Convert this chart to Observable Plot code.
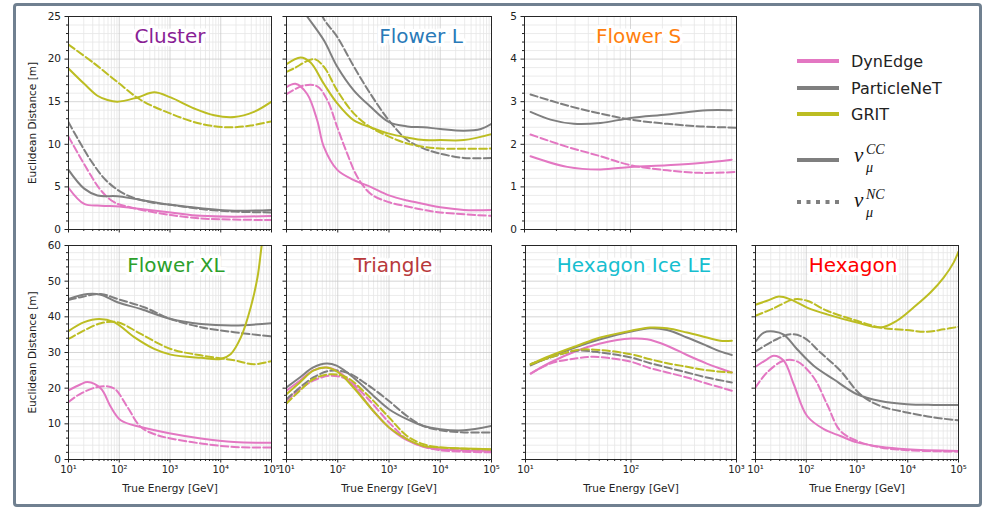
<!DOCTYPE html>
<html><head><meta charset="utf-8">
<script src="https://cdn.jsdelivr.net/npm/d3@7"></script>
<script src="https://cdn.jsdelivr.net/npm/@observablehq/plot@0.6"></script>
<style>
body{margin:0;background:#fff;}
#fig{position:relative;width:986px;height:508px;overflow:hidden;font-family:"DejaVu Sans",sans-serif;background:#fff;}
#border{position:absolute;left:13px;top:3px;width:969px;height:504px;box-sizing:border-box;border:3.5px solid #708090;border-radius:4px;}
.panel{position:absolute;}
</style></head>
<body><div id="fig"><div id="border"></div></div>
<script>
// ---------- DATA: [true energy (GeV), euclidean distance (m)] ----------
// Cluster
const cluster_DynEdge_CC = [[10,4.9],[20.4,3.0],[43.4,2.8],[100,2.7],[197,2.5],[1030,2.0],[4070,1.6],[18400,1.5],[100000,1.6]];
const cluster_DynEdge_NC = [[10,10.9],[23.7,7.0],[43.4,4.6],[79.4,3.2],[197,2.5],[1030,1.7],[4070,1.3],[10000,1.2],[100000,1.1]];
const cluster_ParticleNeT_CC = [[10,7.0],[20.4,4.8],[37.2,4.0],[92.4,3.9],[197,3.6],[1030,2.9],[4070,2.5],[18400,2.2],[100000,2.3]];
const cluster_ParticleNeT_NC = [[10,12.6],[27.5,8.1],[58.7,5.6],[145,4.0],[419,3.2],[1030,2.9],[4070,2.4],[18400,2.1],[100000,2.0]];
const cluster_GRIT_CC = [[10,18.9],[20.4,17.1],[37.2,15.7],[58.7,15.2],[92.4,15.0],[229,15.5],[488,16.1],[1030,15.5],[3000,14.2],[7400,13.4],[18400,13.2],[45000,13.8],[100000,15.0]];
const cluster_GRIT_NC = [[10,21.7],[32,19.5],[92.4,17.3],[266,15.2],[1030,13.6],[4070,12.4],[13600,12.0],[39000,12.2],[100000,12.7]];
// Flower L
const flowerL_DynEdge_CC = [[10,16.7],[15,17.1],[25.3,15.9],[39.8,12.8],[53.6,9.7],[97.9,7.0],[207,5.8],[437,5.0],[1000,4.0],[2270,3.4],[4800,3.0],[10000,2.6],[29000,2.3],[100000,2.3]];
const flowerL_DynEdge_NC = [[10,15.9],[21.8,16.9],[39.8,16.8],[62.4,15.2],[97.9,12.0],[153,8.9],[240,6.2],[437,4.2],[1000,3.2],[2270,2.7],[4800,2.3],[10000,2.0],[100000,1.6]];
const flowerL_ParticleNeT_CC = [[10,29],[15,27],[25.3,25.0],[53.6,22.2],[97.9,19.1],[207,16.3],[437,14.4],[1000,12.6],[2270,12.1],[4800,12.0],[10000,11.8],[29000,11.6],[62000,11.8],[100000,12.4]];
const flowerL_ParticleNeT_NC = [[10,33],[30,28],[53.6,24.7],[97.9,22.6],[207,19.1],[437,15.9],[1000,12.8],[2270,10.5],[4800,9.5],[10000,8.9],[29000,8.4],[100000,8.4]];
const flowerL_GRIT_CC = [[10,19.4],[18.8,20.2],[29.5,19.6],[53.6,17.1],[97.9,14.8],[207,12.8],[437,12.0],[1000,11.25],[2270,10.8],[4800,10.5],[10000,10.5],[29000,10.5],[100000,11.2]];
const flowerL_GRIT_NC = [[10,18.5],[13.9,18.9],[34.2,20.0],[53.6,19.1],[97.9,16.3],[207,13.6],[437,12.0],[1000,10.9],[2270,10.1],[4800,9.7],[10000,9.5],[100000,9.5]];
// Flower S
const flowerS_DynEdge_CC = [[11.4,1.72],[25.3,1.47],[52.1,1.41],[100,1.47],[222,1.51],[457,1.56],[900,1.64]];
const flowerS_DynEdge_NC = [[11.4,2.23],[25.3,1.94],[52.1,1.72],[100,1.51],[222,1.39],[457,1.33],[1000,1.35]];
const flowerS_ParticleNeT_CC = [[11.4,2.76],[17.6,2.58],[29.2,2.48],[52.1,2.50],[100,2.62],[222,2.70],[529,2.80],[900,2.80]];
const flowerS_ParticleNeT_NC = [[11.4,3.17],[25.3,2.91],[52.1,2.72],[100,2.58],[222,2.48],[457,2.42],[1000,2.39]];
// Flower XL
const flowerXL_DynEdge_CC = [[10,19.4],[17.5,21.1],[23.7,21.7],[43.4,19.9],[68.4,14.7],[107,11.0],[266,9.1],[1030,7.3],[4070,5.9],[18400,4.9],[100000,4.7]];
const flowerXL_DynEdge_NC = [[10,16.1],[17.5,18.5],[43.4,20.5],[79.4,19.9],[145,14.7],[266,9.1],[567,6.8],[1030,5.9],[4070,4.5],[18400,3.5],[100000,3.4]];
const flowerXL_ParticleNeT_CC = [[10,45.0],[23.7,46.4],[43.4,46.2],[92.4,44.1],[266,42.2],[1030,39.4],[4070,38.0],[18400,37.6],[100000,38.2]];
const flowerXL_ParticleNeT_NC = [[10,44.7],[17.5,45.5],[43.4,46.4],[92.4,45.0],[309,42.7],[1030,39.4],[4070,37.1],[18400,35.7],[100000,34.5]];
const flowerXL_GRIT_CC = [[10,36.0],[20.4,38.5],[40.2,39.4],[79.4,38.5],[197,34.3],[488,31.0],[1030,29.4],[4070,28.5],[10000,28.2],[15800,29.6],[25000,34.3],[39000,42.7],[53000,51.1],[64000,60],[80000,70]];
const flowerXL_GRIT_NC = [[10,33.8],[20.4,36.2],[43.4,38.2],[92.4,38.5],[266,35.2],[1030,31.0],[4070,29.2],[18400,27.8],[45000,26.7],[100000,27.6]];
// Triangle
const triangle_DynEdge_CC = [[10,19.3],[18.2,22.1],[33.3,25.0],[60.6,25.8],[110,24.4],[202,20.7],[494,13.6],[1000,9.0],[2240,5.4],[4700,3.6],[10000,2.9],[100000,2.4]];
const triangle_DynEdge_NC = [[10,16.4],[18.2,19.7],[33.3,22.1],[70.6,23.5],[150,22.5],[367,17.4],[1000,10.4],[2240,5.7],[4700,3.6],[10000,2.6],[100000,2.0]];
const triangle_ParticleNeT_CC = [[10,20.2],[18.2,23.0],[33.3,25.8],[60.6,26.9],[95,26.3],[202,23.0],[494,17.9],[1000,14.1],[2240,11.3],[4700,9.4],[10000,8.5],[29000,8.2],[100000,9.4]];
const triangle_ParticleNeT_NC = [[10,16.9],[18.2,20.2],[33.3,23.0],[70.6,24.9],[150,24.4],[367,21.1],[1000,16.4],[2240,12.2],[4700,9.4],[10000,8.2],[29000,7.6],[100000,7.6]];
const triangle_GRIT_CC = [[10,18.3],[18.2,21.6],[33.3,24.9],[60.6,25.8],[103,24.4],[202,20.2],[494,13.6],[1000,9.0],[2240,5.7],[4700,3.8],[10000,3.4],[29000,3.1],[100000,2.9]];
const triangle_GRIT_NC = [[10,15.7],[18.2,19.3],[33.3,22.5],[70.6,23.9],[150,23.0],[367,18.3],[1000,11.8],[2240,6.6],[4700,4.3],[10000,3.4],[100000,2.8]];
// Hexagon Ice LE
const hexLE_DynEdge_CC = [[11.2,24.1],[17.2,27.2],[30.8,30.5],[51.2,32.5],[100,33.9],[142,33.7],[220,31.9],[339,29.3],[523,26.9],[700,25.5],[903,24.4]];
const hexLE_DynEdge_NC = [[11.2,24.1],[17.2,26.9],[30.8,28.4],[44.3,28.8],[63.7,28.4],[100,27.4],[152,25.6],[220,24.4],[339,23.0],[523,21.3],[903,19.3]];
const hexLE_ParticleNeT_CC = [[11.2,26.4],[17.2,28.8],[30.8,31.6],[51.2,33.7],[100,35.9],[152,36.8],[220,36.3],[339,34.2],[523,31.9],[700,30.3],[903,29.3]];
const hexLE_ParticleNeT_NC = [[11.2,26.7],[17.2,28.6],[30.8,30.5],[51.2,30.0],[100,28.6],[152,27.0],[220,25.8],[339,24.4],[523,23.0],[903,21.6]];
const hexLE_GRIT_CC = [[11.2,26.7],[17.2,29.1],[30.8,31.9],[51.2,34.2],[100,36.1],[152,37.0],[220,36.8],[339,35.6],[523,34.2],[700,33.3],[903,33.3]];
const hexLE_GRIT_NC = [[11.2,26.7],[17.2,28.6],[30.8,30.7],[51.2,30.7],[100,29.5],[152,28.1],[220,27.0],[339,26.0],[523,25.0],[903,24.4]];
// Hexagon
const hexagon_DynEdge_CC = [[10,26.0],[16.9,28.1],[22.9,29.1],[36.1,27.7],[56.7,21.1],[104,12.2],[222,8.5],[470,6.6],[1000,4.8],[2880,3.6],[9600,2.9],[100000,2.4]];
const hexagon_DynEdge_NC = [[10,20.2],[16.9,24.4],[36.1,27.7],[66,27.5],[140,23.0],[257,15.5],[470,8.0],[1000,5.2],[2880,3.4],[9600,2.6],[100000,2.2]];
const hexagon_ParticleNeT_CC = [[10,33.1],[14.6,35.6],[22.9,35.9],[36.1,35.0],[66,30.9],[140,26.3],[346,22.5],[1000,18.3],[2880,16.4],[9600,15.5],[32000,15.3],[100000,15.3]];
const hexagon_ParticleNeT_NC = [[10,30.3],[22.9,33.3],[48.7,35.1],[89.4,34.2],[190,30.0],[470,24.9],[1160,18.3],[2880,15.0],[9600,13.2],[32000,11.8],[100000,11.0]];
const hexagon_GRIT_CC = [[10,43.4],[16.9,44.5],[28.8,45.7],[48.7,44.9],[104,42.6],[257,40.7],[1000,38.4],[2880,37.0],[6100,38.9],[13000,42.6],[28000,46.8],[51000,51.0],[80000,55.2],[100000,58.3]];
const hexagon_GRIT_NC = [[10,40.3],[22.9,42.4],[56.7,44.9],[104,44.5],[257,41.7],[1000,38.9],[2880,37.0],[9600,36.3],[24000,35.8],[51000,36.5],[100000,37.2]];

const models = ["DynEdge", "ParticleNeT", "GRIT"];
const interactions = ["CC", "NC"];
const legendModelLabels = ["DynEdge", "ParticleNeT", "GRIT"];
const xLabel = "True Energy [GeV]";
const yLabel = "Euclidean Distance [m]";

// ---------- STYLE / LAYOUT ----------
const modelColor = {DynEdge: "#e377c2", ParticleNeT: "#7f7f7f", GRIT: "#bcbd22"};
const dash = {CC: null, NC: "7.4,3.2"};

const panels = [
  {title: "Cluster", color: "#8a1f95", left: 68, top: 16, w: 203, h: 213, x: [10, 1e5], y: [0, 25], yMaj: 5, yMin: 1, yLab: true, xLab: false, yTitle: true, tdx: 0,
   series: {DynEdge: [cluster_DynEdge_CC, cluster_DynEdge_NC], ParticleNeT: [cluster_ParticleNeT_CC, cluster_ParticleNeT_NC], GRIT: [cluster_GRIT_CC, cluster_GRIT_NC]}},
  {title: "Flower L", color: "#2a7ab8", left: 286, top: 16, w: 205, h: 213, x: [10, 1e5], y: [0, 25], yMaj: 5, yMin: 1, yLab: false, xLab: false, yTitle: false, tdx: 32,
   series: {DynEdge: [flowerL_DynEdge_CC, flowerL_DynEdge_NC], ParticleNeT: [flowerL_ParticleNeT_CC, flowerL_ParticleNeT_NC], GRIT: [flowerL_GRIT_CC, flowerL_GRIT_NC]}},
  {title: "Flower S", color: "#ff7f0e", left: 524, top: 16, w: 212, h: 213, x: [10, 1e3], y: [0, 5], yMaj: 1, yMin: 0.2, yLab: true, xLab: false, yTitle: false, tdx: 8,
   series: {DynEdge: [flowerS_DynEdge_CC, flowerS_DynEdge_NC], ParticleNeT: [flowerS_ParticleNeT_CC, flowerS_ParticleNeT_NC]}},
  {title: "Flower XL", color: "#2ca02c", left: 68, top: 245, w: 203, h: 214, x: [10, 1e5], y: [0, 60], yMaj: 10, yMin: 2, yLab: true, xLab: true, yTitle: true, tdx: 6,
   series: {DynEdge: [flowerXL_DynEdge_CC, flowerXL_DynEdge_NC], ParticleNeT: [flowerXL_ParticleNeT_CC, flowerXL_ParticleNeT_NC], GRIT: [flowerXL_GRIT_CC, flowerXL_GRIT_NC]}},
  {title: "Triangle", color: "#b8393b", left: 286, top: 245, w: 205, h: 214, x: [10, 1e5], y: [0, 60], yMaj: 10, yMin: 2, yLab: false, xLab: true, yTitle: false, tdx: 4,
   series: {DynEdge: [triangle_DynEdge_CC, triangle_DynEdge_NC], ParticleNeT: [triangle_ParticleNeT_CC, triangle_ParticleNeT_NC], GRIT: [triangle_GRIT_CC, triangle_GRIT_NC]}},
  {title: "Hexagon Ice LE", color: "#17becf", left: 525, top: 245, w: 211, h: 214, x: [10, 1e3], y: [0, 60], yMaj: 10, yMin: 2, yLab: false, xLab: true, yTitle: false, tdx: 3,
   series: {DynEdge: [hexLE_DynEdge_CC, hexLE_DynEdge_NC], ParticleNeT: [hexLE_ParticleNeT_CC, hexLE_ParticleNeT_NC], GRIT: [hexLE_GRIT_CC, hexLE_GRIT_NC]}},
  {title: "Hexagon", color: "#ff0000", left: 755, top: 245, w: 203, h: 214, x: [10, 1e5], y: [0, 60], yMaj: 10, yMin: 2, yLab: false, xLab: true, yTitle: false, tdx: -4,
   series: {DynEdge: [hexagon_DynEdge_CC, hexagon_DynEdge_NC], ParticleNeT: [hexagon_ParticleNeT_CC, hexagon_ParticleNeT_NC], GRIT: [hexagon_GRIT_CC, hexagon_GRIT_NC]}}
];

const sup = {1: "\u00b9", 2: "\u00b2", 3: "\u00b3", 4: "\u2074", 5: "\u2075"};
const M = {left: 45, right: 8, top: 4, bottom: 40};
const fig = document.getElementById("fig");

function logTicks(lo, hi) {
  const k0 = Math.round(Math.log10(lo)), k1 = Math.round(Math.log10(hi));
  const major = d3.range(k0, k1 + 1).map(k => 10 ** k);
  const minor = [];
  for (let k = k0; k < k1; k++) for (let m = 2; m <= 9; m++) minor.push(m * 10 ** k);
  return {major, minor};
}
function linTicks(max, step, mstep) {
  const major = d3.range(0, max + 1e-9, step).map(v => +v.toFixed(4));
  const minor = d3.range(0, max + 1e-9, mstep).map(v => +v.toFixed(4)).filter(v => !major.some(m => Math.abs(m - v) < 1e-6));
  return {major, minor};
}

for (const p of panels) {
  const xt = logTicks(p.x[0], p.x[1]);
  const yt = linTicks(p.y[1], p.yMaj, p.yMin);
  const marks = [
    Plot.ruleX(xt.minor, {stroke: "#e6e6e6", strokeWidth: 0.8}),
    Plot.ruleY(yt.minor, {stroke: "#e6e6e6", strokeWidth: 0.8}),
    Plot.ruleX(xt.major, {stroke: "#cbcbcb", strokeWidth: 0.8}),
    Plot.ruleY(yt.major, {stroke: "#cbcbcb", strokeWidth: 0.8})
  ];
  for (const m of models) {
    if (!p.series[m]) continue;
    interactions.forEach((it, i) => {
      marks.push(Plot.line(p.series[m][i], {
        x: d => d[0], y: d => d[1], stroke: modelColor[m], strokeWidth: 2,
        strokeDasharray: dash[it], curve: "catmull-rom", clip: true
      }));
    });
  }
  marks.push(
    Plot.frame({stroke: "#262626", strokeWidth: 1}),
    Plot.axisX(xt.minor, {tickSize: 2, tickFormat: () => "", label: null}),
    Plot.axisY(yt.minor, {tickSize: 2, tickFormat: () => "", label: null}),
    Plot.axisX(xt.major, {tickSize: 3.5, tickPadding: 3, label: null, fontSize: 10,
      tickFormat: p.xLab ? (d => "10" + sup[Math.round(Math.log10(d))]) : () => ""}),
    Plot.axisY(yt.major, {tickSize: 3.5, tickPadding: 4, label: null, fontSize: 10.5,
      tickFormat: p.yLab ? (d => String(d)) : () => ""}),
    Plot.text([p.title], {text: d => d, frameAnchor: "top", dy: 20, dx: p.tdx, lineAnchor: "middle", textAnchor: "middle",
      fontSize: 20, fill: p.color, stroke: "white", strokeWidth: 7})
  );
  if (p.yTitle) marks.push(Plot.text([yLabel], {text: d => d, frameAnchor: "left", rotate: -90, dx: -36,
    textAnchor: "middle", lineAnchor: "middle", fontSize: 10.5, fill: "#222"}));
  if (p.xLab) marks.push(Plot.text([xLabel], {text: d => d, frameAnchor: "bottom", dy: 29,
    textAnchor: "middle", lineAnchor: "middle", fontSize: 10.5, fill: "#222"}));

  const svg = Plot.plot({
    width: p.w + M.left + M.right, height: p.h + M.top + M.bottom,
    marginLeft: M.left, marginRight: M.right, marginTop: M.top, marginBottom: M.bottom,
    x: {type: "log", domain: p.x, label: null},
    y: {domain: p.y, label: null},
    style: {background: "transparent", fontFamily: "DejaVu Sans", fontSize: "10.5px", color: "#222", overflow: "visible"},
    marks
  });
  const wrap = document.createElement("div");
  wrap.className = "panel";
  wrap.style.left = (p.left - M.left) + "px";
  wrap.style.top = (p.top - M.top) + "px";
  wrap.appendChild(svg);
  fig.appendChild(wrap);
}

// ---------- LEGEND ----------
const lg = d3.create("svg").attr("width", 986).attr("height", 508)
  .style("position", "absolute").style("left", "0px").style("top", "0px");
const rowsY = [61, 88, 114];
models.forEach((m, i) => {
  lg.append("line").attr("x1", 797).attr("x2", 839).attr("y1", rowsY[i]).attr("y2", rowsY[i])
    .attr("stroke", modelColor[m]).attr("stroke-width", 4);
  lg.append("text").attr("x", 851).attr("y", rowsY[i] + 6).attr("font-family", "DejaVu Sans")
    .attr("font-size", 16).attr("fill", "#222").text(legendModelLabels[i]);
});
const nuRows = [{it: "CC", y: 160, base: 162, dash: null}, {it: "NC", y: 202, base: 207, dash: "4,5.5"}];
for (const r of nuRows) {
  lg.append("line").attr("x1", 797).attr("x2", 839).attr("y1", r.y).attr("y2", r.y)
    .attr("stroke", "#7f7f7f").attr("stroke-width", 4).attr("stroke-dasharray", r.dash);
  const g = lg.append("g").attr("font-family", "Liberation Serif").attr("font-style", "italic").attr("fill", "#111");
  g.append("text").attr("x", 854).attr("y", r.base).attr("font-size", 21).text("\u03bd");
  g.append("text").attr("x", 866).attr("y", r.base - 8).attr("font-size", 14).text(r.it);
  g.append("text").attr("x", 866).attr("y", r.base + 10).attr("font-size", 14).text("\u03bc");
}
fig.appendChild(lg.node());
</script>
</body></html>
